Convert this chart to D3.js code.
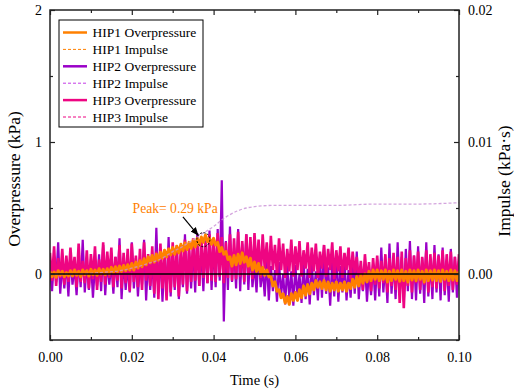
<!DOCTYPE html>
<html><head><meta charset="utf-8">
<script src="https://cdn.jsdelivr.net/npm/d3@7/dist/d3.min.js"></script>
<style>
html,body{margin:0;padding:0;background:#fff;}
svg text{font-family:"Liberation Serif","Times New Roman",serif;fill:#000;}
</style></head><body>
<svg id="chart" width="514" height="392"></svg>
<script>
// ---- data ----
const timeStart = 0, timeStep = 0.0005; // sampling grid of the pressure records (s)

const hip1Overpressure = [
0.02,-0.02,0.015,-0.025,0.025,-0.01,0.02,-0.02,0.01,-0.015,
0.025,-0.015,0.03,-0.01,0.02,-0.02,0.03,-0.005,0.025,-0.015,
0.035,-0.005,0.03,-0.01,0.04,0.0,0.035,-0.005,0.04,0.0,
0.05,0.01,0.055,0.015,0.06,0.02,0.065,0.025,0.07,0.03,
0.08,0.03,0.09,0.045,0.1,0.055,0.115,0.07,0.13,0.085,
0.14,0.09,0.15,0.105,0.165,0.12,0.18,0.13,0.19,0.145,
0.2,0.15,0.21,0.16,0.225,0.175,0.235,0.185,0.24,0.195,
0.255,0.205,0.27,0.22,0.28,0.24,0.295,0.245,0.27,0.225,
0.27,0.22,0.24,0.17,0.2,0.15,0.17,0.11,0.13,0.06,
0.14,0.07,0.15,0.08,0.16,0.09,0.13,0.06,0.12,0.03,
0.09,0.02,0.08,0.0,0.05,-0.01,0.03,-0.02,-0.02,-0.09,
-0.06,-0.13,-0.12,-0.18,-0.15,-0.22,-0.17,-0.23,-0.15,-0.2,
-0.14,-0.2,-0.12,-0.18,-0.09,-0.16,-0.08,-0.15,-0.07,-0.12,
-0.05,-0.1,-0.06,-0.11,-0.05,-0.12,-0.06,-0.13,-0.07,-0.12,
-0.06,-0.13,-0.07,-0.12,-0.06,-0.13,-0.07,-0.11,-0.04,-0.1,
-0.02,-0.09,-0.01,-0.07,0.0,-0.06,0.02,-0.05,0.03,-0.04,
0.03,-0.05,0.025,-0.04,0.03,-0.06,0.02,-0.05,0.03,-0.04,
0.025,-0.055,0.03,-0.05,0.02,-0.06,0.03,-0.045,0.025,-0.05,
0.03,-0.04,0.02,-0.06,0.03,-0.05,0.025,-0.045,0.03,-0.05,
0.025,-0.055,0.03,-0.04,0.02,-0.05,0.03,-0.045,0.025,-0.05,0.02
];

const hip2Overpressure = [
0.05,-0.13,0.12,-0.06,0.24,-0.15,0.08,-0.11,0.1,-0.17,
0.14,-0.08,0.06,-0.16,0.12,-0.1,0.26,-0.14,0.09,-0.12,
0.11,-0.18,0.07,-0.09,0.15,-0.13,0.22,-0.16,0.1,-0.08,
0.08,-0.15,0.13,-0.1,0.27,-0.19,0.11,-0.12,0.06,-0.14,
0.24,-0.11,0.12,-0.17,0.09,-0.08,0.26,-0.2,0.13,-0.12,
0.1,-0.18,0.35,-0.14,0.15,-0.21,0.12,-0.13,0.28,-0.17,
0.16,-0.12,0.22,-0.19,0.14,-0.1,0.3,-0.15,0.18,-0.11,
0.2,-0.14,0.31,-0.09,0.18,-0.13,0.26,-0.07,0.33,-0.12,
0.22,-0.1,0.34,-0.05,0.71,-0.36,0.25,-0.12,0.36,-0.06,
0.2,-0.11,0.34,-0.13,0.23,-0.08,0.3,-0.12,0.21,-0.1,
0.08,-0.14,0.18,-0.1,0.04,-0.17,0.12,-0.2,0.06,-0.13,
0.03,-0.21,0.09,-0.16,0.0,-0.23,0.06,-0.18,0.02,-0.24,
0.07,-0.17,0.0,-0.22,0.1,-0.19,0.04,-0.23,0.08,-0.16,
0.02,-0.2,0.12,-0.18,0.22,-0.15,0.05,-0.24,0.09,-0.17,
0.16,-0.21,0.06,-0.14,0.11,-0.2,0.03,-0.18,0.13,-0.15,
0.17,-0.19,0.05,-0.13,0.09,-0.21,0.04,-0.16,0.08,-0.2,
0.11,-0.17,0.2,-0.14,0.07,-0.22,0.23,-0.15,0.1,-0.19,
0.24,-0.16,0.13,-0.21,0.19,-0.13,0.25,-0.19,0.14,-0.2,
0.21,-0.15,0.12,-0.22,0.24,-0.17,0.1,-0.19,0.22,-0.14,
0.15,-0.2,0.2,-0.16,0.11,-0.21,0.19,-0.14,0.13,-0.18,0.1
];

const hip3Overpressure = [
0.16,-0.05,0.21,-0.09,0.12,-0.03,0.19,-0.08,0.14,-0.06,
0.2,-0.02,0.13,-0.1,0.23,-0.06,0.1,-0.07,0.18,-0.11,
0.15,-0.04,0.21,-0.12,0.11,-0.06,0.24,-0.08,0.17,-0.03,
0.2,-0.1,0.13,-0.05,0.22,-0.11,0.16,-0.07,0.19,-0.13,
0.23,-0.06,0.14,-0.1,0.19,-0.12,0.24,-0.05,0.15,-0.09,
0.21,-0.15,0.17,-0.19,0.23,-0.11,0.16,-0.2,0.2,-0.14,
0.24,-0.1,0.18,-0.17,0.22,-0.08,0.26,-0.13,0.2,-0.06,
0.27,-0.05,0.22,-0.09,0.28,-0.03,0.24,-0.07,0.3,-0.05,
0.26,-0.06,0.31,-0.02,0.28,-0.07,0.24,-0.03,0.3,-0.05,
0.27,-0.04,0.32,-0.02,0.25,-0.06,0.3,-0.01,0.28,-0.04,
0.31,0.02,0.26,-0.03,0.3,0.04,0.24,-0.02,0.29,0.03,
0.22,-0.01,0.27,0.03,0.23,-0.03,0.19,0.02,0.26,-0.02,
0.21,0.03,0.25,-0.02,0.18,0.04,0.24,-0.03,0.2,0.02,
0.23,-0.03,0.17,0.04,0.22,-0.02,0.19,0.03,0.24,-0.04,
0.18,0.02,0.21,-0.03,0.16,0.03,0.2,-0.04,0.17,0.01,
0.13,-0.07,0.1,-0.12,0.15,-0.06,0.09,-0.13,0.12,-0.08,
0.14,-0.11,0.1,-0.07,0.15,-0.14,0.12,-0.09,0.16,-0.12,
0.13,-0.22,0.17,-0.26,0.12,-0.09,0.18,-0.14,0.14,-0.07,
0.17,-0.12,0.13,-0.08,0.18,-0.14,0.15,-0.1,0.16,-0.11,
0.14,-0.07,0.18,-0.13,0.15,-0.09,0.17,-0.12,0.13,-0.08,0.15
];

const impulseTime  = [0,0.005,0.01,0.012,0.014,0.016,0.018,0.02,0.022,0.024,0.026,0.028,0.03,0.032,0.034,0.036,0.038,0.04,0.042,0.044,0.046,0.048,0.05,0.055,0.06,0.07,0.08,0.09,0.1];
const hip2Impulse  = [0,0,0.00005,0.0001,0.00015,0.0002,0.0003,0.00045,0.0006,0.0008,0.001,0.0013,0.0017,0.002,0.0024,0.0028,0.0032,0.0036,0.0041,0.0045,0.0048,0.005,0.0051,0.0052,0.0052,0.0052,0.0053,0.0053,0.0054];

const xTickValues = [0,0.02,0.04,0.06,0.08,0.10];
const xMinorTicks = [0.01,0.03,0.05,0.07,0.09];
const yTickValues = [0,1,2];
const yMinorTicks = [-0.5,0.5,1.5];
const impulseTicks = [0,0.01,0.02];
const impulseMinor = [-0.005,0.005,0.015];

const legendLabels = ["HIP1 Overpressure","HIP1 Impulse","HIP2 Overpressure","HIP2 Impulse","HIP3 Overpressure","HIP3 Impulse"];
const peakValue = 0.29;

// ---- drawing ----
const C1 = "#FF8000", C2 = "#9A00C8", C3 = "#EE0582";
const svg = d3.select("#chart");
const L = 50, R = 459, T = 10, B = 340;

const x = d3.scaleLinear().domain([0,0.1]).range([L,R]);
const y = d3.scaleLinear().domain([-0.5,2]).range([B,T]);
const yI = d3.scaleLinear().domain([-0.005,0.02]).range([B,T]);

svg.append("defs").append("clipPath").attr("id","clip")
  .append("rect").attr("x",L).attr("y",T).attr("width",R-L).attr("height",B-T);

const times = d3.range(hip1Overpressure.length).map(i => timeStart + i*timeStep);
const line = d3.line().x((d,i)=>x(times[i])).y(d=>y(d));
const plot = svg.append("g").attr("clip-path","url(#clip)");

plot.append("path").datum(hip2Overpressure).attr("d",line)
  .attr("fill","none").attr("stroke",C2).attr("stroke-width",2.2).attr("stroke-linejoin","miter");
plot.append("path").datum(hip3Overpressure).attr("d",line)
  .attr("fill","none").attr("stroke",C3).attr("stroke-width",2.6).attr("stroke-linejoin","miter");
plot.append("path").datum(hip1Overpressure).attr("d",line)
  .attr("fill","none").attr("stroke",C1).attr("stroke-width",3).attr("stroke-linejoin","round");

const impLine = d3.line().x((d,i)=>x(impulseTime[i])).y(d=>yI(d)).curve(d3.curveMonotoneX);
plot.append("path").datum(hip2Impulse).attr("d",impLine)
  .attr("fill","none").attr("stroke","#c98fd6").attr("stroke-opacity",0.8)
  .attr("stroke-width",1.3).attr("stroke-dasharray","3,2");

// zero line
plot.append("line").attr("x1",x(0)).attr("x2",x(0.1)).attr("y1",y(0)).attr("y2",y(0))
  .attr("stroke","#000").attr("stroke-width",1.5);

// axes
function styleAxis(g){
  g.select(".domain").remove();
  g.selectAll(".tick line").attr("stroke","#222").attr("stroke-width",1.2);
  g.selectAll("text").style("font-size","14px").attr("fill","#000");
}
const fmt2 = d3.format(".2f");
svg.append("g").attr("transform",`translate(0,${B})`)
  .call(d3.axisBottom(x).tickValues(xTickValues).tickFormat(fmt2).tickSize(-5).tickPadding(12)).call(styleAxis);
svg.append("g").attr("transform",`translate(0,${B})`)
  .call(d3.axisBottom(x).tickValues(xMinorTicks).tickFormat("").tickSize(-3)).call(styleAxis);
svg.append("g").attr("transform",`translate(0,${T})`)
  .call(d3.axisTop(x).tickValues(xTickValues).tickFormat("").tickSize(-5)).call(styleAxis);
svg.append("g").attr("transform",`translate(0,${T})`)
  .call(d3.axisTop(x).tickValues(xMinorTicks).tickFormat("").tickSize(-3)).call(styleAxis);
svg.append("g").attr("transform",`translate(${L},0)`)
  .call(d3.axisLeft(y).tickValues(yTickValues).tickFormat(d3.format("d")).tickSize(-5).tickPadding(8)).call(styleAxis);
svg.append("g").attr("transform",`translate(${L},0)`)
  .call(d3.axisLeft(y).tickValues(yMinorTicks).tickFormat("").tickSize(-3)).call(styleAxis);
svg.append("g").attr("transform",`translate(${R},0)`)
  .call(d3.axisRight(yI).tickValues(impulseTicks).tickFormat(fmt2).tickSize(-5).tickPadding(9)).call(styleAxis);
svg.append("g").attr("transform",`translate(${R},0)`)
  .call(d3.axisRight(yI).tickValues(impulseMinor).tickFormat("").tickSize(-3)).call(styleAxis);

// frame
svg.append("rect").attr("x",L).attr("y",T).attr("width",R-L).attr("height",B-T)
  .attr("fill","none").attr("stroke","#222").attr("stroke-width",1.5);

// titles
svg.append("text").attr("x",(L+R)/2).attr("y",385).attr("text-anchor","middle")
  .style("font-size","14.5px").text("Time (s)");
svg.append("text").attr("transform",`translate(20,${(T+B)/2+4}) rotate(-90)`).attr("text-anchor","middle")
  .style("font-size","17.5px").text("Overpressure (kPa)");
svg.append("text").attr("transform",`translate(510,${(T+B)/2+6}) rotate(-90)`).attr("text-anchor","middle")
  .style("font-size","17.5px").text("Impulse (kPa·s)");

// peak annotation
const peakT = 0.0375, peakV = 0.26;
svg.append("ellipse").attr("cx",x(peakT)).attr("cy",y(peakV)).attr("rx",6.5).attr("ry",7)
  .attr("fill","none").attr("stroke","#000").attr("stroke-width",1).attr("stroke-dasharray","2,1.5");
svg.append("defs").append("marker").attr("id","arr").attr("viewBox","0 0 10 10")
  .attr("refX",9).attr("refY",5).attr("markerWidth",7).attr("markerHeight",7).attr("orient","auto")
  .append("path").attr("d","M0,1 L10,5 L0,9 z").attr("fill","#000");
svg.append("line").attr("x1",x(0.0325)).attr("y1",y(0.432)).attr("x2",x(0.0362)).attr("y2",y(0.295))
  .attr("stroke","#000").attr("stroke-width",1.2).attr("marker-end","url(#arr)");
svg.append("text").attr("x",x(0.0306)).attr("y",y(0.462)).attr("text-anchor","middle")
  .style("font-size","13.6px").style("fill",C1).text(`Peak= ${peakValue} kPa`);

// legend
const lg = svg.append("g");
lg.append("rect").attr("x",59).attr("y",20).attr("width",144).attr("height",107)
  .attr("fill","#fff").attr("stroke","#000").attr("stroke-width",1);
const legendStyles = [
  {c:C1,w:2.5,d:null},{c:C1,w:1,d:"3,2"},
  {c:C2,w:2.5,d:null},{c:"#C43CE6",w:1,d:"3,2"},
  {c:C3,w:2.5,d:null},{c:C3,w:1,d:"3,2"}
];
legendLabels.forEach((lab,k)=>{
  const yy = 32.5 + k*16.9;
  const s = legendStyles[k];
  lg.append("line").attr("x1",63).attr("x2",87).attr("y1",yy).attr("y2",yy)
    .attr("stroke",s.c).attr("stroke-width",s.w).attr("stroke-dasharray",s.d);
  lg.append("text").attr("x",92.5).attr("y",yy+4.6).style("font-size","13.5px").text(lab);
});
</script>
</body></html>
